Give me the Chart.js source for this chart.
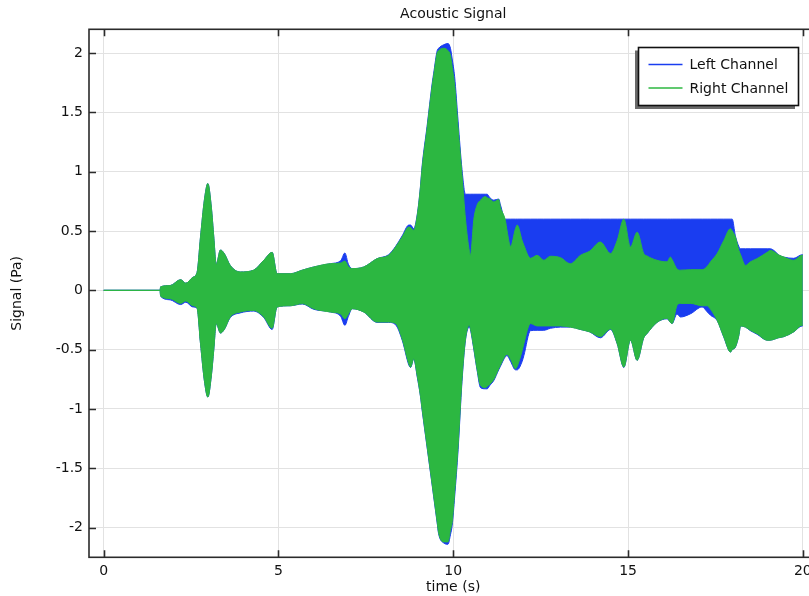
<!DOCTYPE html>
<html>
<head>
<meta charset="utf-8">
<script src="https://cdn.jsdelivr.net/npm/chart.js@4/dist/chart.umd.min.js"></script>
<style>
  html, body { margin: 0; padding: 0; background: #fff; overflow: hidden; }
</style>
</head>
<body>
<canvas id="myChart" width="840" height="596"></canvas>
<script>
Chart.defaults.font.family = '"DejaVu Sans", sans-serif';
Chart.defaults.font.size = 14;
Chart.defaults.color = '#111';

// envelope of the acoustic signal
const time = [
  0, 1.61, 1.63, 1.9, 2.2, 2.35, 2.55, 2.67, 2.77, 2.88,
  2.98, 3.08, 3.15, 3.22, 3.34, 3.45, 3.62, 3.91, 4.29, 4.58,
  4.82, 4.96, 5.34, 5.68, 6.01, 6.49, 6.78, 6.9, 7.0, 7.11,
  7.44, 7.82, 8.15, 8.35, 8.54, 8.73, 8.78, 8.87, 8.97, 9.06,
  9.11, 9.25, 9.4, 9.44, 9.54, 9.58, 9.73, 9.85, 9.92, 9.97,
  10.04, 10.14, 10.25, 10.35, 10.46, 10.49, 10.59, 10.68, 10.78, 10.92,
  10.97, 11.05, 11.16, 11.3, 11.35, 11.49, 11.54, 11.64, 11.78, 11.83,
  11.97, 12.02, 12.21, 12.4, 12.59, 12.78, 13.07, 13.35, 13.64, 13.9,
  14.21, 14.5, 14.69, 14.88, 15.07, 15.26, 15.45, 15.54, 15.83, 16.12,
  16.21, 16.26, 16.4, 16.5, 16.79, 17.12, 17.26, 17.36, 17.55, 17.74,
  17.93, 17.98, 18.07, 18.17, 18.22, 18.36, 18.5, 18.69, 18.98, 19.07,
  19.2, 19.3, 19.46, 19.74, 19.98, 20];

const rightUpper = [
  0, 0, 0.03, 0.04, 0.09, 0.06, 0.11, 0.15, 0.45, 0.76,
  0.9, 0.7, 0.45, 0.22, 0.34, 0.31, 0.21, 0.155, 0.17, 0.253,
  0.32, 0.14, 0.14, 0.17, 0.197, 0.225, 0.23, 0.247, 0.2, 0.183,
  0.197, 0.267, 0.295, 0.365, 0.45, 0.534, 0.53, 0.506, 0.63, 0.86,
  1.03, 1.36, 1.73, 1.81, 2.0, 2.02, 2.04, 2.02, 1.98, 1.88,
  1.73, 1.36, 0.97, 0.6, 0.33, 0.295, 0.6, 0.717, 0.76, 0.79,
  0.78, 0.77, 0.745, 0.765, 0.7, 0.59, 0.5, 0.37, 0.52, 0.55,
  0.42, 0.38, 0.27, 0.295, 0.253, 0.287, 0.275, 0.224, 0.295, 0.33,
  0.407, 0.31, 0.42, 0.6, 0.365, 0.49, 0.31, 0.29, 0.253, 0.24,
  0.28, 0.26, 0.18, 0.17, 0.174, 0.174, 0.2, 0.24, 0.31, 0.42,
  0.52, 0.5, 0.45, 0.337, 0.3, 0.21, 0.24, 0.267, 0.32, 0.337,
  0.32, 0.3, 0.28, 0.253, 0.295, 0.295];

const rightLower = [
  0, 0, -0.05, -0.07, -0.11, -0.09, -0.13, -0.15, -0.45, -0.76,
  -0.9, -0.72, -0.5, -0.28, -0.36, -0.33, -0.225, -0.183, -0.17, -0.225,
  -0.32, -0.14, -0.13, -0.112, -0.155, -0.183, -0.2, -0.24, -0.2, -0.155,
  -0.183, -0.267, -0.267, -0.28, -0.41, -0.62, -0.647, -0.576, -0.72, -0.885,
  -1.0, -1.31, -1.64, -1.73, -1.95, -2.04, -2.12, -2.12, -2.02, -1.95,
  -1.7, -1.3, -0.745, -0.41, -0.295, -0.32, -0.49, -0.66, -0.8, -0.82,
  -0.81, -0.79, -0.75, -0.66, -0.63, -0.55, -0.54, -0.58, -0.66, -0.64,
  -0.51, -0.45, -0.28, -0.3, -0.3, -0.3, -0.3, -0.31, -0.33, -0.35,
  -0.39, -0.325, -0.45, -0.647, -0.42, -0.59, -0.4, -0.365, -0.27, -0.236,
  -0.27, -0.28, -0.127, -0.11, -0.11, -0.13, -0.13, -0.16, -0.253, -0.393,
  -0.52, -0.5, -0.478, -0.38, -0.3, -0.31, -0.337, -0.365, -0.42, -0.42,
  -0.41, -0.4, -0.39, -0.35, -0.295, -0.295];

const leftUpper = [
  0, 0, 0.03, 0.04, 0.09, 0.06, 0.11, 0.15, 0.45, 0.76,
  0.9, 0.7, 0.45, 0.22, 0.34, 0.31, 0.21, 0.155, 0.17, 0.253,
  0.32, 0.14, 0.14, 0.17, 0.197, 0.225, 0.25, 0.315, 0.22, 0.183,
  0.197, 0.267, 0.3, 0.37, 0.46, 0.55, 0.55, 0.52, 0.64, 0.87,
  1.05, 1.38, 1.75, 1.83, 2.02, 2.04, 2.07, 2.08, 2.04, 1.95,
  1.8, 1.42, 1.02, 0.81, 0.81, 0.81, 0.81, 0.81, 0.81, 0.81,
  0.81, 0.78, 0.76, 0.77, 0.72, 0.6, 0.6, 0.6, 0.6, 0.6,
  0.6, 0.6, 0.6, 0.6, 0.6, 0.6, 0.6, 0.6, 0.6, 0.6,
  0.6, 0.6, 0.6, 0.6, 0.6, 0.6, 0.6, 0.6, 0.6, 0.6,
  0.6, 0.6, 0.6, 0.6, 0.6, 0.6, 0.6, 0.6, 0.6, 0.6,
  0.6, 0.6, 0.46, 0.37, 0.35, 0.35, 0.35, 0.35, 0.35, 0.35,
  0.33, 0.3, 0.28, 0.27, 0.3, 0.3];

const leftLower = [
  0, 0, -0.05, -0.08, -0.12, -0.1, -0.14, -0.15, -0.45, -0.76,
  -0.9, -0.72, -0.5, -0.28, -0.36, -0.33, -0.23, -0.19, -0.175, -0.23,
  -0.33, -0.14, -0.13, -0.115, -0.16, -0.183, -0.22, -0.295, -0.22, -0.155,
  -0.183, -0.27, -0.27, -0.29, -0.42, -0.63, -0.65, -0.58, -0.73, -0.89,
  -1.01, -1.32, -1.65, -1.74, -1.96, -2.05, -2.13, -2.14, -2.06, -1.98,
  -1.74, -1.34, -0.77, -0.42, -0.31, -0.33, -0.5, -0.67, -0.82, -0.83,
  -0.83, -0.8, -0.76, -0.67, -0.64, -0.56, -0.55, -0.6, -0.67, -0.67,
  -0.6, -0.55, -0.34, -0.337, -0.337, -0.32, -0.31, -0.31, -0.33, -0.35,
  -0.4, -0.33, -0.45, -0.65, -0.42, -0.59, -0.4, -0.365, -0.27, -0.24,
  -0.27, -0.28, -0.2, -0.225, -0.197, -0.14, -0.18, -0.21, -0.255, -0.395,
  -0.52, -0.5, -0.48, -0.38, -0.3, -0.31, -0.34, -0.37, -0.42, -0.42,
  -0.41, -0.4, -0.39, -0.35, -0.3, -0.3];

const channelNames = ['Left Channel', 'Right Channel'];
const xTicks = [0, 5, 10, 15, 20];

const BLUE = '#1a3df0';
const GREEN = '#2cb741';

const pts = arr => time.map((t, i) => ({x: t, y: arr[i]}));

// box round the plot with inward tick marks
const frame = {
  id: 'frame',
  afterDatasetsDraw(chart) {
    const {ctx, chartArea: a, scales: {x, y}} = chart;
    ctx.save();
    ctx.strokeStyle = '#2b2b2b';
    ctx.lineWidth = 1.6;
    ctx.strokeRect(a.left, a.top, a.right - a.left, a.bottom - a.top);
    ctx.beginPath();
    x.ticks.forEach(t => {
      const px = Math.round(x.getPixelForValue(t.value)) + 0.5;
      ctx.moveTo(px, a.bottom); ctx.lineTo(px, a.bottom - 7);
      ctx.moveTo(px, a.top); ctx.lineTo(px, a.top + 7);
    });
    y.ticks.forEach(t => {
      const py = Math.round(y.getPixelForValue(t.value)) + 0.5;
      ctx.moveTo(a.left, py); ctx.lineTo(a.left + 7, py);
      ctx.moveTo(a.right, py); ctx.lineTo(a.right - 7, py);
    });
    ctx.stroke();
    ctx.restore();
  }
};

// legend box with shadow, top right
const boxLegend = {
  id: 'boxLegend',
  afterDraw(chart) {
    const ctx = chart.ctx;
    const L = 638.5, T = 47.5, W = 160, H = 58;
    ctx.save();
    ctx.fillStyle = '#6a6a6a';
    ctx.fillRect(L - 3.5, T + 3, W, H + 0.5);
    ctx.fillStyle = '#fff';
    ctx.fillRect(L, T, W, H);
    ctx.strokeStyle = '#111';
    ctx.lineWidth = 1.6;
    ctx.strokeRect(L, T, W, H);
    const cols = [BLUE, GREEN];
    ctx.font = '14px "DejaVu Sans", sans-serif';
    ctx.textBaseline = 'middle';
    ctx.textAlign = 'left';
    channelNames.forEach((name, i) => {
      const yy = T + 17 + i * 23.5;
      ctx.strokeStyle = cols[i];
      ctx.lineWidth = 1.3;
      ctx.beginPath();
      ctx.moveTo(L + 10, yy); ctx.lineTo(L + 44, yy);
      ctx.stroke();
      ctx.fillStyle = '#111';
      ctx.fillText(name, L + 51, yy + 1);
    });
    ctx.restore();
  }
};

const line = (arr, color, fill) => ({
  data: pts(arr),
  borderColor: color,
  backgroundColor: color,
  borderWidth: 1,
  pointRadius: 0,
  fill: fill,
  cubicInterpolationMode: 'monotone'
});

new Chart(document.getElementById('myChart').getContext('2d'), {
  type: 'line',
  data: {
    datasets: [
      Object.assign(line(rightUpper, GREEN, '+1'), {label: channelNames[1]}),
      line(rightLower, GREEN, false),
      Object.assign(line(leftUpper, BLUE, '+1'), {label: channelNames[0]}),
      line(leftLower, BLUE, false)
    ]
  },
  options: {
    responsive: false,
    animation: false,
    events: [],
    layout: {padding: {left: 0, right: 22.5, top: 0, bottom: 0}},
    scales: {
      x: {
        type: 'linear',
        min: -0.42,
        max: 20.42,
        afterBuildTicks: s => { s.ticks = xTicks.map(v => ({value: v})); },
        afterFit: s => { s.height = 38.7; },
        ticks: {padding: 6, maxRotation: 0, callback: v => String(v)},
        grid: {color: '#e2e2e2', drawTicks: false},
        border: {display: false},
        title: {display: true, text: 'time (s)', padding: {top: 0, bottom: 0}}
      },
      y: {
        type: 'linear',
        min: -2.25,
        max: 2.2,
        ticks: {stepSize: 0.5, includeBounds: false, padding: 6, callback: v => String(Math.round(v * 10) / 10)},
        afterFit: s => { s.width = 89; },
        grid: {color: '#e2e2e2', drawTicks: false},
        border: {display: false},
        title: {display: true, text: 'Signal (Pa)', padding: {top: 8.6, bottom: 0}}
      }
    },
    plugins: {
      legend: {display: false},
      tooltip: {enabled: false},
      title: {
        display: true,
        text: 'Acoustic Signal',
        fullSize: false,
        color: '#111',
        font: {size: 14, weight: 'normal'},
        padding: {top: 5.6, bottom: 6.9}
      }
    }
  },
  plugins: [frame, boxLegend]
});
</script>
</body>
</html>
